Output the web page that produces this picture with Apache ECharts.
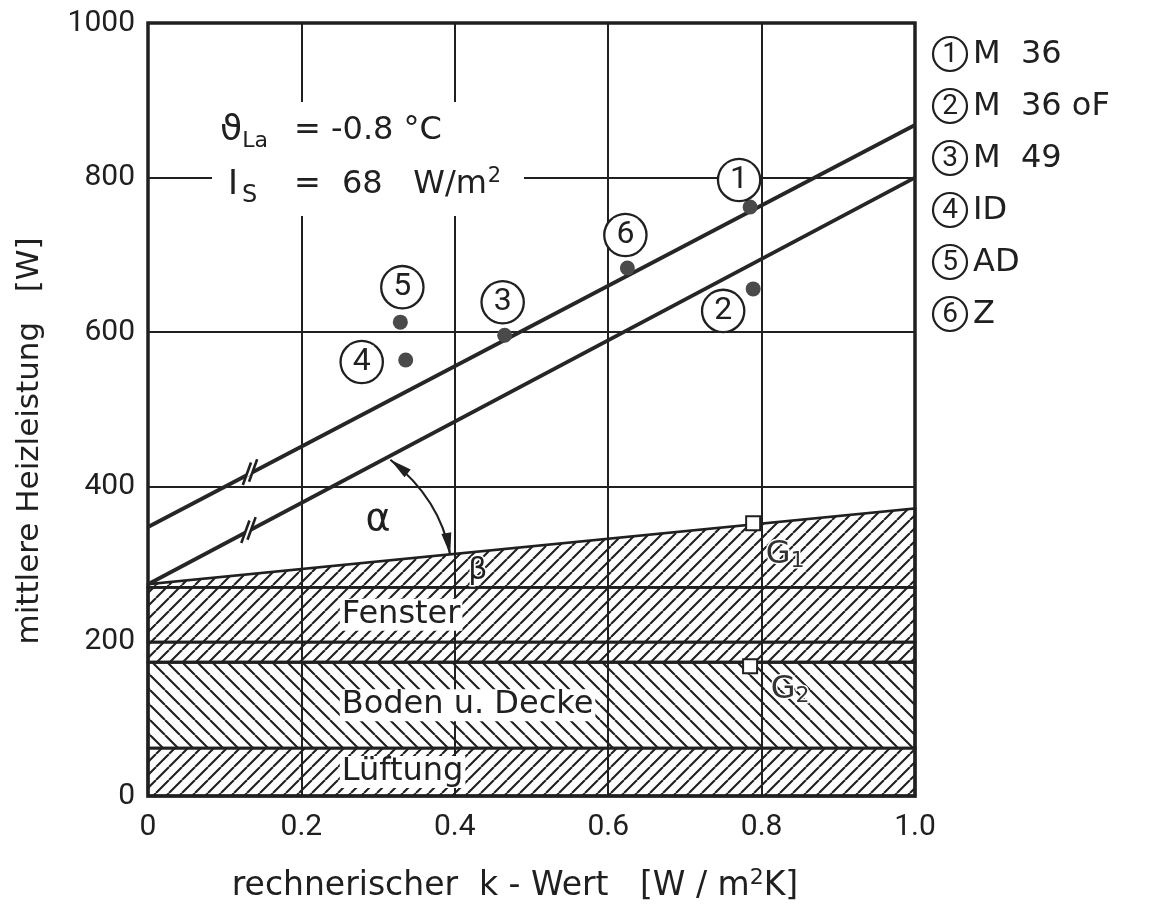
<!DOCTYPE html>
<html><head><meta charset="utf-8">
<script src="https://cdn.jsdelivr.net/npm/echarts@6/dist/echarts.min.js"></script>
<style>html,body{margin:0;padding:0;background:#fff}#c{width:1152px;height:917px}</style>
</head><body><div id="c"></div>
<script>
// ---------- data ----------
const xTickLabels = ['0', '0.2', '0.4', '0.6', '0.8', '1.0'];
const yTickLabels = ['0', '200', '400', '600', '800', '1000'];

const pointIds = ['1', '2', '3', '4', '5', '6'];
const pointK = [0.785, 0.789, 0.465, 0.336, 0.329, 0.625];
const pointQ = [762, 656, 596, 564, 613, 683];

const legendIds = ['1', '2', '3', '4', '5', '6'];
const legendNames = ['M  36', 'M  36 oF', 'M  49', 'ID', 'AD', 'Z'];

const upperLineK = [0, 1];
const upperLineQ = [348, 868];
const lowerLineK = [0, 1];
const lowerLineQ = [274, 800];

const bandNames = ['Lüftung', 'Boden u. Decke', '', 'Fenster', ''];
const bandLow = [0, 62, 173, 199, 270];
const bandTopLeft = [62, 173, 199, 270, 274];
const bandTopRight = [62, 173, 199, 270, 372];
const bandHatch = ['/', '\\', '/', '/', '/'];

const gPointNames = ['1', '2'];
const gPointK = [0.789, 0.785];
const gPointQ = [353, 168];

const breakK = [0.133, 0.131];
const breakQ = [419, 344];

const alphaArcK = [0.316, 0.381, 0.394];   // start, control, end
const alphaArcQ = [435, 384, 312];
const alphaTextPos = [0.30, 357];
const betaTextPos = [0.43, 291];

// ---------- styles / layout ----------
const FONT = 'Roboto, "DejaVu Sans", sans-serif';
const TFONT = '"DejaVu Sans", Roboto, sans-serif';
const INK = '#202020';
const labelOffsets = [[-11, -27], [-30, 22], [-2, -33], [-44, 2], [2, -35], [-2, -33]];
const gLabelOffsets = [[32, 32], [40, 24]];

function makeHatch(dir, s) {
  const c = document.createElement('canvas');
  c.width = s; c.height = s;
  const ctx = c.getContext('2d');
  ctx.strokeStyle = INK; ctx.lineWidth = 2.1;
  ctx.beginPath();
  for (const o of [-s, 0, s]) {
    if (dir === '/') { ctx.moveTo(o, s); ctx.lineTo(o + s, 0); }
    else { ctx.moveTo(o, 0); ctx.lineTo(o + s, s); }
  }
  ctx.stroke();
  return { image: c, repeat: 'repeat' };
}
const patterns = { '/': makeHatch('/', 13), '\\': makeHatch('\\', 15) };

const chart = echarts.init(document.getElementById('c'), null, { renderer: 'canvas' });

const option = {
  animation: false,
  backgroundColor: '#fff',
  grid: { left: 148, right: 237, top: 23, bottom: 121, show: true, borderColor: INK, borderWidth: 3.5, backgroundColor: 'transparent' },
  xAxis: {
    type: 'value', min: 0, max: 1, interval: 0.2,
    axisLine: { show: false }, axisTick: { show: false },
    splitLine: { show: true, lineStyle: { color: INK, width: 2 } },
    axisLabel: { margin: 16, color: INK, fontSize: 30, fontFamily: FONT,
      formatter: (v) => xTickLabels[Math.round(v / 0.2)] }
  },
  yAxis: {
    type: 'value', min: 0, max: 1000, interval: 200,
    axisLine: { show: false }, axisTick: { show: false },
    splitLine: { show: true, lineStyle: { color: INK, width: 2 } },
    axisLabel: { margin: 13, color: INK, fontSize: 30, fontFamily: FONT,
      formatter: (v) => yTickLabels[Math.round(v / 200)] }
  },
  series: [
    {
      type: 'custom', name: 'bands', z: 2,
      data: bandNames.map((n, i) => [0, bandLow[i], 1, bandTopRight[i]]),
      encode: { x: [0, 2], y: [1, 3] },
      renderItem: (params, api) => {
        const i = params.dataIndex;
        const p1 = api.coord([0, bandLow[i]]);
        const p2 = api.coord([0, bandTopLeft[i]]);
        const p3 = api.coord([1, bandTopRight[i]]);
        const p4 = api.coord([1, bandLow[i]]);
        const children = [{
          type: 'polygon', shape: { points: [p1, p2, p3, p4] },
          style: { fill: patterns[bandHatch[i]], stroke: INK, lineWidth: 2.8 }
        }];
        if (bandNames[i]) {
          const c = api.coord([0.25, (bandLow[i] + bandTopLeft[i]) / 2]);
          children.push({
            type: 'text', x: c[0], y: c[1], z2: 10,
            style: { text: bandNames[i], fontSize: 32, fontFamily: TFONT, fill: INK,
              align: 'left', verticalAlign: 'middle', backgroundColor: '#fff', padding: [0, 2, 0, 2] }
          });
        }
        return { type: 'group', children };
      }
    },
    {
      type: 'line', name: 'upper', z: 4, symbol: 'none', silent: true,
      data: upperLineK.map((k, i) => [k, upperLineQ[i]]),
      lineStyle: { color: '#262626', width: 3.8 }
    },
    {
      type: 'line', name: 'lower', z: 4, symbol: 'none', silent: true,
      data: lowerLineK.map((k, i) => [k, lowerLineQ[i]]),
      lineStyle: { color: '#262626', width: 3.8 }
    },
    {
      type: 'custom', name: 'breaks', z: 5,
      data: breakK.map((k, i) => [k, breakQ[i]]),
      renderItem: (params, api) => {
        const i = params.dataIndex;
        const c = api.coord([breakK[i], breakQ[i]]);
        const lk = i === 0 ? upperLineK : lowerLineK;
        const lq = i === 0 ? upperLineQ : lowerLineQ;
        const a = api.coord([lk[0], lq[0]]), b = api.coord([lk[1], lq[1]]);
        let dx = b[0] - a[0], dy = b[1] - a[1];
        const L = Math.hypot(dx, dy); dx /= L; dy /= L;
        const sx = 0.34, sy = -0.94;
        const g = 3.5, h = 12, hw = 4.5;
        const pt = (o, t) => [c[0] + dx * o + sx * t, c[1] + dy * o + sy * t];
        return {
          type: 'group', children: [
            { type: 'polygon', shape: { points: [pt(-g, -hw), pt(-g, hw), pt(g, hw), pt(g, -hw)] }, style: { fill: '#fff' } },
            { type: 'line', shape: { x1: pt(-g, -h)[0], y1: pt(-g, -h)[1], x2: pt(-g, h)[0], y2: pt(-g, h)[1] }, style: { stroke: INK, lineWidth: 2.6 } },
            { type: 'line', shape: { x1: pt(g, -h)[0], y1: pt(g, -h)[1], x2: pt(g, h)[0], y2: pt(g, h)[1] }, style: { stroke: INK, lineWidth: 2.6 } }
          ]
        };
      }
    },
    {
      type: 'custom', name: 'alpha', z: 5,
      data: [[alphaArcK[0], alphaArcQ[0]]],
      renderItem: (params, api) => {
        const P0 = api.coord([alphaArcK[0], alphaArcQ[0]]);
        const C = api.coord([alphaArcK[1], alphaArcQ[1]]);
        const P2 = api.coord([alphaArcK[2], alphaArcQ[2]]);
        const head = (tip, from) => {
          let ux = tip[0] - from[0], uy = tip[1] - from[1];
          const l = Math.hypot(ux, uy); ux /= l; uy /= l;
          const Lh = 22, W = 5;
          return { type: 'polygon', shape: { points: [tip, [tip[0] - ux * Lh - uy * W, tip[1] - uy * Lh + ux * W], [tip[0] - ux * Lh + uy * W, tip[1] - uy * Lh - ux * W]] }, style: { fill: INK } };
        };
        const at = api.coord(alphaTextPos), bt = api.coord(betaTextPos);
        return {
          type: 'group', children: [
            { type: 'bezierCurve', shape: { x1: P0[0], y1: P0[1], x2: P2[0], y2: P2[1], cpx1: C[0], cpy1: C[1] }, style: { stroke: INK, lineWidth: 2.2, fill: null } },
            head(P0, C), head(P2, C),
            { type: 'text', x: at[0], y: at[1], style: { text: 'α', fontSize: 38, fontFamily: TFONT, fill: INK, align: 'center', verticalAlign: 'middle' } },
            { type: 'text', x: bt[0], y: bt[1], style: { text: 'β', fontSize: 30, fontFamily: TFONT, fill: INK, align: 'center', verticalAlign: 'middle', stroke: '#fff', lineWidth: 3 } }
          ]
        };
      }
    },
    {
      type: 'scatter', name: 'G', z: 6,
      data: gPointK.map((k, i) => ({
        value: [k, gPointQ[i]],
        label: { offset: gLabelOffsets[i] }
      })),
      symbol: 'rect', symbolSize: 14,
      itemStyle: { color: '#fff', borderColor: INK, borderWidth: 2, opacity: 1 },
      label: {
        show: true, position: 'inside',
        formatter: (p) => '{g|G}{s|' + gPointNames[p.dataIndex] + '}',
        rich: {
          g: { fontSize: 32, fontFamily: TFONT, color: '#333', textBorderColor: '#fff', textBorderWidth: 3 },
          s: { fontSize: 22, fontFamily: TFONT, color: '#333', verticalAlign: 'bottom', padding: [12, 0, 0, 0], textBorderColor: '#fff', textBorderWidth: 3 }
        }
      }
    },
    {
      type: 'scatter', name: 'points', z: 7,
      data: pointK.map((k, i) => ({
        value: [k, pointQ[i]],
        label: { offset: labelOffsets[i] }
      })),
      symbol: 'circle', symbolSize: 15,
      itemStyle: { color: '#4a4a4a', opacity: 1 },
      label: {
        show: true, position: 'inside',
        formatter: (p) => pointIds[p.dataIndex],
        fontSize: 32, fontFamily: FONT, color: INK,
        width: 38, height: 38, lineHeight: 40, align: 'center', verticalAlign: 'middle',
        borderColor: INK, borderWidth: 2.3, borderRadius: 21, backgroundColor: '#fff', padding: [1, 1, 1, 1]
      }
    }
  ],
  graphic: []
};

// legend, annotations, axis names
const g = [];
g.push({ type: 'rect', shape: { x: 212, y: 102, width: 312, height: 114 }, style: { fill: '#fff' }, z: 50 });
g.push({ type: 'text', x: 220, y: 131, z: 51, style: { text: '{a|ϑ}{b|La}', verticalAlign: 'middle', rich: { a: { fontSize: 36, fontFamily: TFONT, fill: INK }, b: { fontSize: 22, fontFamily: TFONT, fill: INK, padding: [20, 0, 0, 0] } } } });
g.push({ type: 'text', x: 294, y: 131, z: 51, style: { text: '= -0.8 °C', fontSize: 32, fontFamily: TFONT, fill: INK, verticalAlign: 'middle' } });
g.push({ type: 'text', x: 228, y: 185, z: 51, style: { text: '{a|I}{b|S}', verticalAlign: 'middle', rich: { a: { fontSize: 34, fontFamily: TFONT, fill: INK }, b: { fontSize: 24, fontFamily: TFONT, fill: INK, padding: [22, 0, 0, 4] } } } });
g.push({ type: 'text', x: 294, y: 185, z: 51, style: { text: '=', fontSize: 32, fontFamily: TFONT, fill: INK, verticalAlign: 'middle' } });
g.push({ type: 'text', x: 342, y: 185, z: 51, style: { text: '{a|68   W/m}{b|2}', verticalAlign: 'middle', rich: { a: { fontSize: 32, fontFamily: TFONT, fill: INK }, b: { fontSize: 21, fontFamily: TFONT, fill: INK, padding: [0, 0, 16, 1] } } } });

legendIds.forEach((id, i) => {
  const y = 54 + i * 52;
  g.push({ type: 'circle', shape: { cx: 950, cy: y, r: 17 }, style: { fill: '#fff', stroke: INK, lineWidth: 2.2 }, z: 50 });
  g.push({ type: 'text', x: 950, y: y + 1, z: 51, style: { text: id, fontSize: 28, fontFamily: FONT, fill: INK, align: 'center', verticalAlign: 'middle' } });
  g.push({ type: 'text', x: 973, y: y + 1, z: 51, style: { text: legendNames[i], fontSize: 32, fontFamily: TFONT, fill: INK, align: 'left', verticalAlign: 'middle' } });
});

g.push({ type: 'text', x: 30, y: 441, rotation: Math.PI / 2, z: 51, style: { text: 'mittlere Heizleistung   [W]', fontSize: 31, fontFamily: TFONT, fill: INK, align: 'center', verticalAlign: 'middle' } });
g.push({ type: 'text', x: 515, y: 886, z: 51, style: { text: '{a|rechnerischer  k - Wert   [W / m}{b|2}{a|K]}', align: 'center', verticalAlign: 'middle', rich: { a: { fontSize: 33, fontFamily: TFONT, fill: INK }, b: { fontSize: 22, fontFamily: TFONT, fill: INK, padding: [0, 0, 16, 0] } } } });
option.graphic = g;

chart.setOption(option);
</script></body></html>
